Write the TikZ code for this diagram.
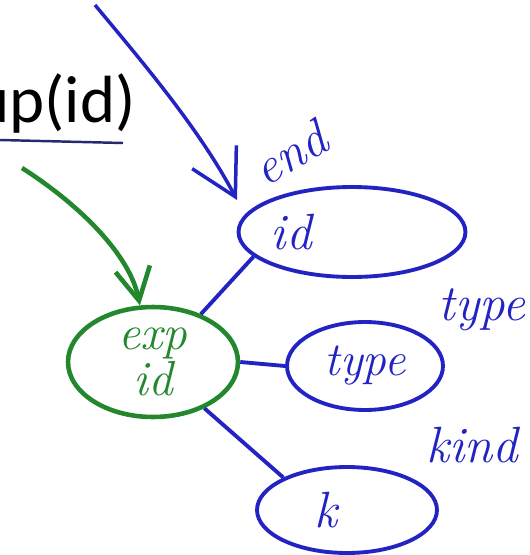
\documentclass[tikz,border=0pt]{standalone}
\usepackage{fontspec}
\newfontfamily\slidefont{Carlito}
\usepackage{xcolor}
\usepackage{tikz}
\usetikzlibrary{shapes.geometric, arrows.meta, positioning}
\definecolor{inkblue}{RGB}{35,35,195}
\definecolor{inkgreen}{RGB}{35,135,45}
\definecolor{inknavy}{RGB}{40,40,110}
\tikzstyle{blob} = [ellipse, draw=inkblue, line width=2.2pt, inner sep=0pt, text=inkblue, font=\itshape\fontsize{27}{27}\selectfont]
\tikzstyle{link} = [draw=inkblue, line width=2.2pt]

\begin{document}
\begin{tikzpicture}[
    x=0.02cm, y=-0.02cm,
    blob/.style={ellipse, draw=inkblue, line width=2.2pt, inner sep=0pt, text=inkblue, font=\itshape\fontsize{27}{27}\selectfont},
    gblob/.style={ellipse, draw=inkgreen, line width=2.6pt, inner sep=0pt, text=inkgreen, align=center, font=\itshape\fontsize{28}{24}\selectfont},
    hand/.style={text=inkblue, inner sep=0pt, font=\itshape\fontsize{29}{29}\selectfont},
    link/.style={draw=inkblue, line width=2.2pt},
    bluearrow/.style={draw=inkblue, line width=2pt, -{Straight Barb[length=9mm, width=10mm, line width=2pt]}},
    greenarrow/.style={draw=inkgreen, line width=2.6pt, -{Straight Barb[length=6.5mm, width=7mm, line width=2.6pt]}}
]
    \useasboundingbox (0,0) rectangle (529,555);

    % Slide text
    \node [anchor=base east, inner sep=0pt, font=\slidefont\fontsize{38}{38}\selectfont] (upid) at (136,122) {up(id)};
    \draw [draw=inknavy, line width=1.4pt] (0,140) -- (123,143);

    % Blobs
    \node [blob, minimum width=4.54cm, minimum height=1.8cm] (idb) at (352,232) {};
    \node [gblob, minimum width=3.4cm, minimum height=2.2cm] (exp) at (153,362) {exp\\id};
    \node [blob, minimum width=3.12cm, minimum height=1.76cm] (tyb) at (365,366) {type};
    \node [blob, minimum width=3.6cm, minimum height=1.72cm] (kb) at (347,510) {};

    % Labels
    \node [hand, right=0.68cm of idb.west] (idtxt) {id};
    \node [hand, right=1.18cm of kb.west] (ktxt) {k};
    \node [hand, rotate=30] (endlbl) at (290,153) {end};
    \node [hand] (typelbl) at (482,310) {type};
    \node [hand] (kindlbl) at (472,445) {kind};

    % Arrows
    \coordinate (endfrom) at (95,5);
    \coordinate (endto) at (237,200);
    \draw [bluearrow] (endfrom) .. controls (145,65) and (200,130) .. (endto);
    \coordinate (expfrom) at (22,168);
    \draw [greenarrow] (expfrom) .. controls (80,205) and (130,255) .. (exp.103);

    % Connections
    \draw [link] (exp.45) -- (idb.194);
    \draw [link] (exp.east) -- (tyb.west);
    \draw [link] (exp.-42) -- (kb.153);
\end{tikzpicture}
\end{document}
